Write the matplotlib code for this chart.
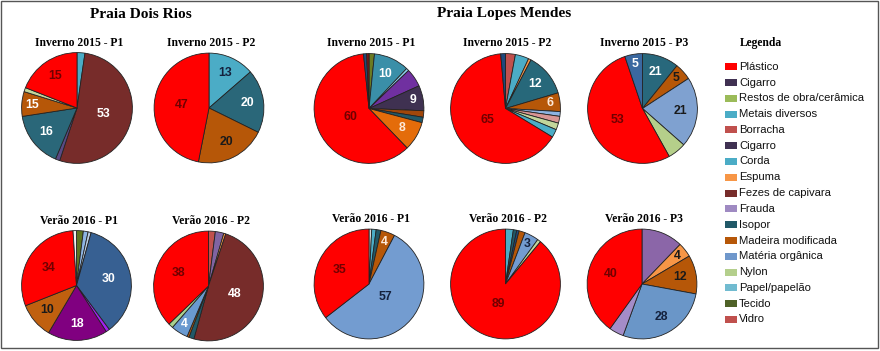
import matplotlib
matplotlib.use("Agg")
import matplotlib.pyplot as plt
from matplotlib.patches import Rectangle
import numpy as np

# ---------------- DATA ----------------
# Each pie: slices listed clockwise from 12 o'clock.
dr_inv_p1_cat = ["Metais diversos", "Fezes de capivara", "Cigarro", "Isopor",
                 "Madeira modificada", "Restos de obra/cerâmica", "Plástico"]
dr_inv_p1_val = [2.3, 52.7, 1.3, 16.2, 7.2, 1.2, 19.0]
dr_inv_p1_lbl = ["", "53", "", "16", "15", "", "15"]

dr_inv_p2_cat = ["Metais diversos", "Isopor", "Madeira modificada", "Plástico"]
dr_inv_p2_val = [13.6, 18.7, 20.8, 46.9]
dr_inv_p2_lbl = ["13", "20", "20", "47"]

dr_ver_p1_cat = ["Tecido", "Papel/papelão", "Matéria orgânica", "Matéria orgânica",
                 "Frauda", "Frauda", "Madeira modificada", "Plástico", "Nylon"]
dr_ver_p1_val = [2.0, 1.4, 0.9, 35.5, 1.1, 17.6, 10.5, 30.0, 1.0]
dr_ver_p1_lbl = ["", "", "", "30", "", "18", "10", "34", ""]

dr_ver_p2_cat = ["Vidro", "Frauda", "Espuma", "Fezes de capivara", "Isopor",
                 "Madeira modificada", "Matéria orgânica", "Nylon", "Plástico"]
dr_ver_p2_val = [2.0, 2.5, 0.6, 49.2, 1.5, 0.6, 5.0, 1.4, 37.2]
dr_ver_p2_lbl = ["", "", "", "48", "", "", "4", "", "38"]

lm_inv_p1_cat = ["Tecido", "Corda", "Papel/papelão", "Cigarro", "Cigarro",
                 "Madeira modificada", "Isopor", "Espuma", "Plástico",
                 "Metais diversos", "Fezes de capivara"]
lm_inv_p1_val = [1.6, 10.4, 0.8, 5.4, 7.4, 1.9, 1.6, 8.6, 60.5, 0.9, 0.7]
lm_inv_p1_lbl = ["", "10", "", "", "9", "", "", "8", "60", "", ""]

lm_inv_p2_cat = ["Vidro", "Metais diversos", "Espuma", "Isopor", "Madeira modificada",
                 "Matéria orgânica", "Borracha", "Nylon", "Corda", "Plástico", "Cigarro"]
lm_inv_p2_val = [2.9, 4.0, 0.8, 12.7, 5.5, 1.4, 2.0, 2.0, 2.4, 64.9, 1.4]
lm_inv_p2_lbl = ["", "", "", "12", "6", "", "", "", "", "65", ""]

lm_inv_p3_cat = ["Isopor", "Madeira modificada", "Matéria orgânica", "Nylon",
                 "Plástico", "Matéria orgânica"]
lm_inv_p3_val = [10.8, 5.0, 20.7, 5.4, 52.9, 5.2]
lm_inv_p3_lbl = ["21", "5", "21", "", "53", "5"]

lm_ver_p1_cat = ["Nylon", "Metais diversos", "Isopor", "Madeira modificada",
                 "Matéria orgânica", "Plástico"]
lm_ver_p1_val = [0.8, 1.3, 1.4, 4.2, 56.8, 35.5]
lm_ver_p1_lbl = ["", "", "", "4", "57", "35"]

lm_ver_p2_cat = ["Metais diversos", "Isopor", "Cigarro", "Madeira modificada",
                 "Matéria orgânica", "Nylon", "Plástico"]
lm_ver_p2_val = [2.3, 1.0, 0.7, 1.8, 4.2, 1.0, 89.0]
lm_ver_p2_lbl = ["", "", "", "", "3", "", "89"]

lm_ver_p3_cat = ["Frauda", "Espuma", "Madeira modificada", "Matéria orgânica",
                 "Frauda", "Plástico"]
lm_ver_p3_val = [12.2, 4.3, 11.4, 27.7, 4.3, 40.1]
lm_ver_p3_lbl = ["", "4", "12", "28", "", "40"]

legend_items = ["Plástico", "Cigarro", "Restos de obra/cerâmica", "Metais diversos",
                "Borracha", "Cigarro", "Corda", "Espuma", "Fezes de capivara",
                "Frauda", "Isopor", "Madeira modificada", "Matéria orgânica",
                "Nylon", "Papel/papelão", "Tecido", "Vidro"]

section_titles = ["Praia Dois Rios", "Praia Lopes Mendes"]

# ---------------- STYLE ----------------
W, H = 880, 351
RED, DRED = "#FF0000", "#700000"
WH, DK, NV = "#FFFFFF", "#1A1A1A", "#14213D"

pies = [
    # title, cat, val, lbl, center(px), radius(px), slice colors, label colors
    ("Inverno 2015 - P1", dr_inv_p1_cat, dr_inv_p1_val, dr_inv_p1_lbl, (77, 108), 56.5,
     ["#4BACC6", "#772C2A", "#5A4A85", "#2A6779", "#B65708", "#C4D79B", RED],
     [WH, WH, WH, WH, WH, WH, DRED]),
    ("Inverno 2015 - P2", dr_inv_p2_cat, dr_inv_p2_val, dr_inv_p2_lbl, (209, 108), 56,
     ["#4BACC6", "#2A6779", "#B65708", RED],
     [NV, WH, DK, DRED]),
    ("Verão 2016 - P1", dr_ver_p1_cat, dr_ver_p1_val, dr_ver_p1_lbl, (76.5, 285.5), 56,
     ["#5E7520", "#8DB4E2", "#B9CDE5", "#376092", "#A020F0", "#800080", "#C0600F", RED, "#F2F2F2"],
     [WH, WH, WH, WH, WH, WH, DK, DRED, WH]),
    ("Verão 2016 - P2", dr_ver_p2_cat, dr_ver_p2_val, dr_ver_p2_lbl, (208.5, 286), 56,
     ["#C0504D", "#8064A2", "#F79646", "#772C2A", "#215968", "#B65708", "#6A9AD0", "#A9D18E", RED],
     [WH, WH, WH, WH, WH, WH, WH, WH, DRED]),
    ("Inverno 2015 - P1", lm_inv_p1_cat, lm_inv_p1_val, lm_inv_p1_lbl, (369, 108.5), 56,
     ["#6B7B22", "#3A8FA8", "#8ED1F0", "#7030A0", "#3F3151", "#A0470A", "#215968",
      "#E46C0A", RED, "#1F497D", "#7B1818"],
     [WH, WH, WH, WH, WH, WH, WH, "#FDE9D9", DRED, WH, WH]),
    ("Inverno 2015 - P2", lm_inv_p2_cat, lm_inv_p2_val, lm_inv_p2_lbl, (505.5, 108.5), 56,
     ["#C0504D", "#4BACC6", "#F79646", "#27687A", "#B65708", "#8DB4E2", "#D99694",
      "#C3D69B", "#4BACC6", RED, "#1F497D"],
     [WH, WH, WH, WH, "#FDE9D9", WH, WH, WH, WH, DRED, WH]),
    ("Inverno 2015 - P3", lm_inv_p3_cat, lm_inv_p3_val, lm_inv_p3_lbl, (642.5, 108.5), 56,
     ["#28687C", "#B65708", "#7FA1D0", "#B5CF8A", RED, "#3A68A0"],
     [WH, DK, DK, DK, DRED, WH]),
    ("Verão 2016 - P1", lm_ver_p1_cat, lm_ver_p1_val, lm_ver_p1_lbl, (369, 284), 56,
     ["#D9D9D9", "#4BACC6", "#215968", "#B65708", "#739CD0", RED],
     [WH, WH, WH, "#FDE9D9", NV, DRED]),
    ("Verão 2016 - P2", lm_ver_p2_cat, lm_ver_p2_val, lm_ver_p2_lbl, (505.5, 284), 56,
     ["#4BACC6", "#215968", "#1F497D", "#B65708", "#739CD0", "#C3D69B", RED],
     [WH, WH, WH, WH, NV, WH, DRED]),
    ("Verão 2016 - P3", lm_ver_p3_cat, lm_ver_p3_val, lm_ver_p3_lbl, (642, 284), 56,
     ["#8B66A8", "#F79646", "#B65708", "#6A96C8", "#A48CC8", RED],
     [WH, DK, DK, NV, WH, DRED]),
]
section_pos = [(141, 14), (504, 14)]
legend_colors = ["#FF0000", "#403152", "#9BBB59", "#4BACC6", "#C0504D", "#403152",
                 "#4BACC6", "#F79646", "#772C2A", "#9F8AC2", "#215968", "#B65708",
                 "#6F97CB", "#B4CF8C", "#71BBD0", "#4F6228", "#C0504D"]

SERIF = "Liberation Serif"
SANS = "Liberation Sans"

fig = plt.figure(figsize=(W / 100, H / 100), dpi=100)
fig.patch.set_facecolor("white")


def fx(x):
    return x / W


def fy(y):
    return 1 - y / H


def label_radius(share):
    if share < 0.08:
        return 0.82
    if share < 0.30:
        return 0.70
    if share < 0.45:
        return 0.60
    if share < 0.55:
        return 0.50
    return 0.38


for title, cat, val, lbl, (cx, cy), r, cols, lcols in pies:
    ax = fig.add_axes([fx(cx - r), fy(cy + r), 2 * r / W, 2 * r / H])
    ax.pie(val, colors=cols, startangle=90, counterclock=False,
           wedgeprops=dict(edgecolor="#222222", linewidth=0.6))
    ax.set_xlim(-1.02, 1.02)
    ax.set_ylim(-1.02, 1.02)
    ax.axis("off")
    total = float(sum(val))
    cum = 0.0
    for v, t, lc in zip(val, lbl, lcols):
        mid = cum + v / 2.0
        cum += v
        if not t:
            continue
        ang = np.deg2rad(90 - 360 * mid / total)
        rr = label_radius(v / total)
        ax.text(rr * np.cos(ang), rr * np.sin(ang), t, ha="center", va="center",
                color=lc, fontsize=8.8, fontweight="bold", family=SANS)
    fig.text(fx(cx + 2), fy(cy - 65), title, ha="center", va="center",
             fontsize=8.4, fontweight="bold", family=SERIF)

for t, (x, y) in zip(section_titles, section_pos):
    fig.text(fx(x), fy(y), t, ha="center", va="center", fontsize=11.1,
             fontweight="bold", family=SERIF)

# Legend
fig.text(fx(761), fy(43), "Legenda", ha="center", va="center", fontsize=8.4,
         fontweight="bold", family=SERIF)
y0, dy = 66.7, 15.8
for i, (name, c) in enumerate(zip(legend_items, legend_colors)):
    y = y0 + i * dy
    fig.add_artist(Rectangle((fx(725), fy(y + 3.5)), 12 / W, 7 / H,
                             transform=fig.transFigure, facecolor=c,
                             edgecolor="none"))
    fig.text(fx(739), fy(y), name, ha="left", va="center", fontsize=8.1,
             family=SANS, color="#111111")

# outer frame
fig.add_artist(Rectangle((fx(1), fy(348)), 877 / W, 347 / H,
                         transform=fig.transFigure, facecolor="none",
                         edgecolor="#555555", linewidth=1.0))

fig.savefig("out.png", dpi=100)
